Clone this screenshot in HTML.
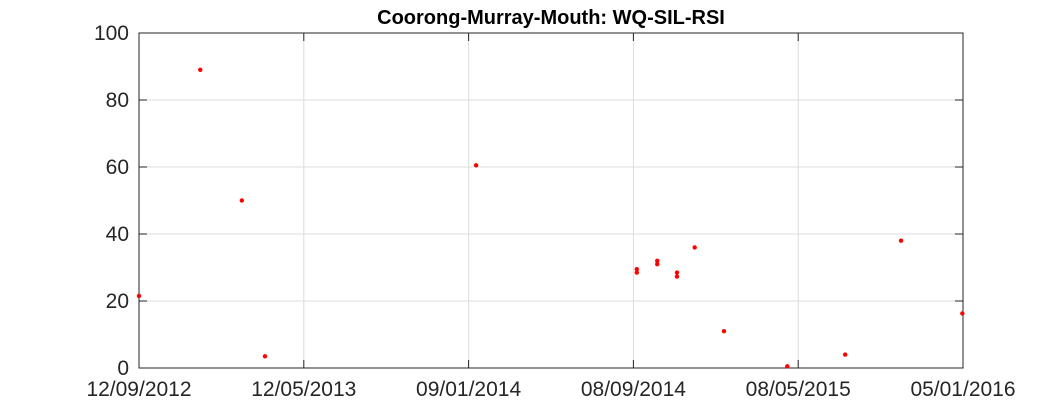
<!DOCTYPE html>
<html><head><meta charset="utf-8"><style>
body{margin:0;background:#fff;}
svg{display:block;font-family:"Liberation Sans",Arial,sans-serif;}
</style></head><body>
<svg id="chart" width="1063" height="413">
<text x="551" y="24" text-anchor="middle" font-size="20" font-weight="bold" fill="#000">Coorong-Murray-Mouth: WQ-SIL-RSI</text>
<g id="grid"></g><g id="axes"></g><g id="marks"></g>
</svg>
<script>
const tickDays=[0,242,484,726,968,1210];
const tickLabels=["12/09/2012","12/05/2013","09/01/2014","08/09/2014","08/05/2015","05/01/2016"];
const yTicks=[0,20,40,60,80,100];
const pointDays=[0,90,151,185,495,731,731,761,761,790,790,816,859,952,1037,1119,1209];
const pointValues=[21.5,89,50,3.5,60.5,29.5,28.5,32,31,28.5,27.3,36,11,0.5,4,38,16.3];
const L=139,R=963,T=33,B=368;
const xs=d=>L+d/1210*(R-L);
const ys=v=>B-v/100*(B-T);
const NS="http://www.w3.org/2000/svg";
function mk(tag,attrs,parent){const e=document.createElementNS(NS,tag);for(const k in attrs)e.setAttribute(k,attrs[k]);parent.appendChild(e);return e;}
const grid=document.getElementById('grid'),axes=document.getElementById('axes'),marks=document.getElementById('marks');
mk('rect',{x:L,y:T,width:R-L,height:B-T,fill:'#fff',stroke:'none'},grid);
tickDays.forEach((d,i)=>{
  const x=xs(d);
  const g=mk('line',{x1:x,x2:x,y1:T,y2:B,stroke:'#dcdcdc','stroke-width':1},grid);
  
  
  mk('line',{x1:x,x2:x,y1:B,y2:B-8,stroke:'#262626'},axes);
  mk('line',{x1:x,x2:x,y1:T,y2:T+8,stroke:'#262626'},axes);
  const t=mk('text',{x:x,y:B+28,'text-anchor':'middle','font-size':21,fill:'#262626'},axes);
  t.textContent=tickLabels[i];
  
  
});
yTicks.forEach(v=>{
  const y=ys(v);
  const g=mk('line',{x1:L,x2:R,y1:y,y2:y,stroke:'#dcdcdc','stroke-width':1},grid);
  
  
  mk('line',{x1:L,x2:L+8,y1:y,y2:y,stroke:'#262626'},axes);
  mk('line',{x1:R,x2:R-8,y1:y,y2:y,stroke:'#262626'},axes);
  const t=mk('text',{x:L-10,y:y+7,'text-anchor':'end','font-size':21,fill:'#262626'},axes);
  t.textContent=v;
  
  
});
const fr=mk('rect',{x:L,y:T,width:R-L,height:B-T,fill:'none',stroke:'#262626','stroke-width':1},axes);


pointDays.forEach((d,i)=>{
  const c=mk('circle',{cx:xs(d),cy:ys(pointValues[i]),r:2.2,fill:'#ff0000'},marks);
  
  
});
</script>
</body></html>
